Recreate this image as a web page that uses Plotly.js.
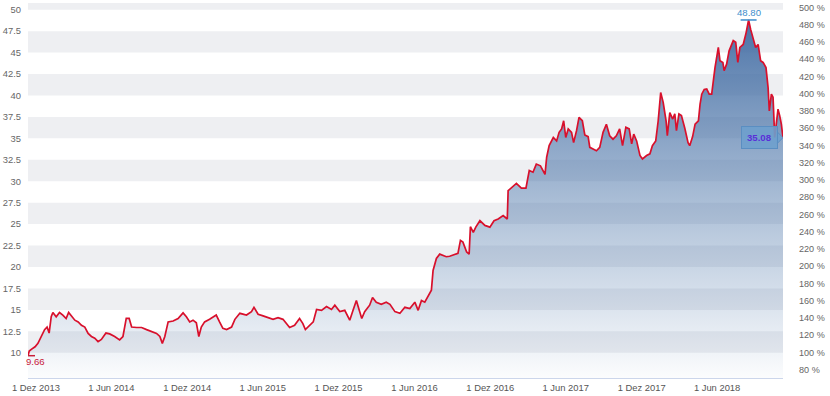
<!DOCTYPE html>
<html>
<head>
<meta charset="utf-8">
<script src="https://cdn.plot.ly/plotly-3.0.1.min.js"></script>
<style>
  html, body { margin: 0; padding: 0; background: #ffffff; }
  #chart { width: 830px; height: 396px; }
</style>
</head>
<body>
<div id="chart"></div>
<script>
const dates = [
'2013-11-12','2013-11-15','2013-11-20','2013-11-29','2013-12-06','2013-12-14','2013-12-22','2013-12-28',
'2014-01-02','2014-01-07','2014-01-11','2014-01-19','2014-01-27','2014-02-04','2014-02-12','2014-02-18','2014-02-26',
'2014-03-05','2014-03-13','2014-03-21','2014-03-29','2014-04-06','2014-04-14','2014-04-22','2014-04-30','2014-05-08',
'2014-05-19','2014-05-28','2014-06-09','2014-06-21','2014-06-29','2014-07-07','2014-07-14','2014-07-20','2014-08-01',
'2014-08-13','2014-08-25','2014-09-06','2014-09-18','2014-09-26','2014-10-02','2014-10-08','2014-10-16','2014-10-28',
'2014-11-09','2014-11-21','2014-11-29','2014-12-07','2014-12-15','2014-12-23','2014-12-29',
'2015-01-04','2015-01-12','2015-01-24','2015-02-09','2015-02-17','2015-02-25','2015-03-06','2015-03-18','2015-03-26',
'2015-04-07','2015-04-23','2015-05-05','2015-05-11','2015-05-21','2015-06-02','2015-06-14','2015-06-26','2015-07-08',
'2015-07-20','2015-08-05','2015-08-17','2015-08-29','2015-09-06','2015-09-12','2015-09-22','2015-10-01','2015-10-09',
'2015-10-21','2015-11-02','2015-11-14','2015-11-22','2015-12-04','2015-12-16','2015-12-28',
'2016-01-05','2016-01-13','2016-01-20','2016-01-26','2016-02-02','2016-02-14','2016-02-21','2016-03-01','2016-03-13',
'2016-03-25','2016-04-03','2016-04-15','2016-04-27','2016-05-09','2016-05-21','2016-06-02','2016-06-10','2016-06-18',
'2016-06-26','2016-07-06','2016-07-12','2016-07-16','2016-07-24','2016-08-01','2016-08-17','2016-08-25','2016-09-06',
'2016-09-14','2016-09-20','2016-09-26','2016-10-05','2016-10-11','2016-10-14','2016-10-21','2016-10-27','2016-11-06',
'2016-11-18','2016-11-30','2016-12-10','2016-12-20',
'2017-01-01','2017-01-11','2017-01-13','2017-01-21','2017-02-02','2017-02-14','2017-02-25','2017-03-05','2017-03-14',
'2017-03-22','2017-04-01','2017-04-12','2017-04-16','2017-04-22','2017-05-02','2017-05-10','2017-05-16','2017-05-22',
'2017-05-27','2017-06-01','2017-06-07','2017-06-15','2017-06-20','2017-06-27','2017-07-03','2017-07-11','2017-07-17',
'2017-07-25','2017-07-29','2017-08-06','2017-08-14','2017-08-22','2017-08-30','2017-09-07','2017-09-15','2017-09-23',
'2017-10-01','2017-10-09','2017-10-16','2017-10-24','2017-11-01','2017-11-07','2017-11-12','2017-11-19','2017-11-27',
'2017-12-03','2017-12-13','2017-12-21','2017-12-27',
'2018-01-04','2018-01-10','2018-01-16','2018-01-22','2018-01-29','2018-02-01','2018-02-07','2018-02-14','2018-02-19',
'2018-02-23','2018-03-01','2018-03-07','2018-03-15','2018-03-23','2018-03-27','2018-04-03','2018-04-09','2018-04-17',
'2018-04-21','2018-04-25','2018-05-01','2018-05-07','2018-05-13','2018-05-19','2018-05-27','2018-06-04','2018-06-08',
'2018-06-15','2018-06-18','2018-06-24','2018-06-30','2018-07-10','2018-07-16','2018-07-21','2018-07-26','2018-08-03',
'2018-08-10','2018-08-16','2018-08-21','2018-08-27','2018-09-02','2018-09-08','2018-09-14','2018-09-20','2018-09-27',
'2018-10-02','2018-10-05','2018-10-10','2018-10-14','2018-10-18','2018-10-22','2018-10-26','2018-10-30','2018-11-03',
'2018-11-07'
];
const prices = [
9.66,10.2,10.4,10.7,11.1,11.9,12.7,13.0,
12.3,14.2,14.7,14.2,14.7,14.4,14.0,14.7,14.2,
13.8,13.6,13.2,13.0,12.25,11.9,11.7,11.3,11.55,
12.3,12.2,11.9,11.5,11.9,14.0,14.0,13.0,12.95,
12.95,12.7,12.45,12.25,11.9,11.1,11.9,13.6,13.7,
14.0,14.65,14.2,13.6,13.8,13.5,11.9,
13.0,13.6,13.9,14.4,13.6,12.85,12.7,13.0,13.9,
14.6,14.4,14.8,15.3,14.5,14.3,14.1,13.9,14.1,
13.9,12.95,13.2,14.0,13.4,12.7,13.2,13.6,15.05,
14.95,15.4,15.05,15.55,14.8,14.95,13.8,
14.95,16.1,14.95,14.0,14.8,15.55,16.45,15.9,15.65,
15.9,15.65,14.8,14.6,15.3,15.15,15.9,14.95,16.1,
15.9,16.9,17.3,19.6,21.0,21.5,21.2,21.25,21.5,
21.6,23.1,22.9,21.75,21.5,24.7,24.05,24.65,25.4,
24.85,24.65,25.4,25.6,
26.0,25.6,28.9,29.2,29.75,29.2,29.2,31.25,31.05,
32.0,31.8,30.8,32.8,34.15,35.1,34.7,35.7,36.1,
37.05,35.1,36.1,35.7,34.5,35.9,37.45,37.05,35.4,
35.2,33.95,33.75,33.55,33.95,35.7,36.65,35.3,34.9,
35.3,36.1,34.15,36.3,36.1,34.35,35.5,34.7,33.0,
32.6,33.0,33.2,34.15,
34.7,37.05,40.35,39.2,37.05,35.3,38.0,37.25,37.85,
35.9,37.85,37.65,36.2,34.5,34.15,35.2,36.65,37.05,
39.0,40.15,40.7,40.75,40.15,40.15,43.25,45.6,44.05,
43.85,42.9,43.65,45.2,46.4,46.2,43.85,45.6,45.95,
47.3,48.8,47.7,46.75,45.6,45.95,44.05,43.85,43.25,
40.95,38.2,40.15,39.8,35.1,37.05,38.4,37.65,36.65,
35.08
];

const xTickVals = ['2013-12-01','2014-06-01','2014-12-01','2015-06-01','2015-12-01','2016-06-01','2016-12-01','2017-06-01','2017-12-01','2018-06-01'];
const xTickText = ['1 Dez 2013','1 Jun 2014','1 Dez 2014','1 Jun 2015','1 Dez 2015','1 Jun 2016','1 Dez 2016','1 Jun 2017','1 Dez 2017','1 Jun 2018'];
const yTickVals = [10,12.5,15,17.5,20,22.5,25,27.5,30,32.5,35,37.5,40,42.5,45,47.5,50];
const yTickText = ['10','12.5','15','17.5','20','22.5','25','27.5','30','32.5','35','37.5','40','42.5','45','47.5','50'];
const pctTickVals = [80,100,120,140,160,180,200,220,240,260,280,300,320,340,360,380,400,420,440,460,480,500];
const pctTickText = ['80 %','100 %','120 %','140 %','160 %','180 %','200 %','220 %','240 %','260 %','280 %','300 %','320 %','340 %','360 %','380 %','400 %','420 %','440 %','460 %','480 %','500 %'];
const bandStarts = [10,15,20,25,30,35,40,45,50];
const pctBase = 10.05;

const yRange = [7.06, 50.78];
const y2Range = [yRange[0] / pctBase * 100, yRange[1] / pctBase * 100];
const pctSeries = prices.map(p => p / pctBase * 100);

const n = prices.length;
let maxI = 0;
prices.forEach((p, i) => { if (p > prices[maxI]) maxI = i; });

const fontFam = 'Liberation Sans, Arial, sans-serif';
const shapes = bandStarts.map(v => ({
  type: 'rect', layer: 'below', xref: 'paper', yref: 'y',
  x0: 0, x1: 1, y0: v, y1: Math.min(v + 2.5, yRange[1]),
  fillcolor: '#eeeff2', line: { width: 0 }
}));
shapes.push({
  type: 'line', xref: 'x', yref: 'y', xsizemode: 'pixel', xanchor: dates[0],
  x0: -6, x1: 7, y0: prices[0], y1: prices[0],
  line: { color: '#c8203a', width: 1.5 }
});
shapes.push({
  type: 'line', xref: 'x', yref: 'y', xsizemode: 'pixel', xanchor: dates[maxI],
  x0: -8, x1: 8, y0: prices[maxI], y1: prices[maxI],
  line: { color: '#3b8dcb', width: 1.5 }
});
// small pointer of the last-value label
shapes.push({
  type: 'path', xref: 'x', yref: 'y', xsizemode: 'pixel', ysizemode: 'pixel',
  xanchor: dates[n - 1], yanchor: prices[n - 1],
  path: 'M -6 -6 L 0 0 L -6 6 Z',
  fillcolor: 'rgba(110,160,205,0.9)', line: { color: '#5a8ec2', width: 1 }
});

const traces = [
  {
    x: dates, y: prices, type: 'scatter', mode: 'lines',
    line: { color: '#d8102c', width: 1.7 },
    fill: 'tozeroy',
    fillgradient: {
      type: 'vertical',
      start: yRange[0], stop: 49,
      colorscale: [[0, 'rgba(74,116,168,0.02)'], [0.4, 'rgba(74,116,168,0.38)'], [1, 'rgba(66,108,163,0.95)']]
    },
    hoverinfo: 'skip', showlegend: false
  },
  {
    x: dates, y: pctSeries, type: 'scatter', mode: 'lines', yaxis: 'y2',
    line: { color: 'rgba(0,0,0,0)', width: 0 }, hoverinfo: 'skip', showlegend: false
  }
];

const layout = {
  width: 830, height: 396,
  margin: { l: 28, r: 47, t: 3, b: 18 },
  paper_bgcolor: '#ffffff', plot_bgcolor: '#ffffff',
  font: { family: fontFam, size: 9.4, color: '#666666' },
  showlegend: false,
  xaxis: {
    type: 'date', range: [dates[0], dates[n - 1]],
    tickmode: 'array', tickvals: xTickVals, ticktext: xTickText,
    showgrid: false, zeroline: false, showline: true, linecolor: '#ccd6eb', linewidth: 1,
    ticks: '', tickfont: { size: 9.4, color: '#555555' }, ticklabelstandoff: 1
  },
  yaxis: {
    range: yRange, tickmode: 'array', tickvals: yTickVals, ticktext: yTickText,
    showgrid: false, zeroline: false, showline: false, ticks: '',
    tickfont: { size: 9.4, color: '#666666' }, ticklabelstandoff: 6
  },
  yaxis2: {
    overlaying: 'y', side: 'right', range: y2Range,
    tickmode: 'array', tickvals: pctTickVals, ticktext: pctTickText,
    showgrid: false, zeroline: false, showline: false, ticks: '',
    tickfont: { size: 9.1, color: '#666666' }, ticklabelstandoff: 15
  },
  shapes: shapes,
  annotations: [
    {
      x: dates[0], y: prices[0], xref: 'x', yref: 'y', text: prices[0].toFixed(2),
      showarrow: false, xanchor: 'left', yanchor: 'top', xshift: -4, yshift: 2,
      font: { family: fontFam, size: 9.6, color: '#c8203a' }
    },
    {
      x: dates[maxI], y: prices[maxI], xref: 'x', yref: 'y', text: prices[maxI].toFixed(2),
      showarrow: false, xanchor: 'center', yanchor: 'bottom', yshift: 0,
      font: { family: fontFam, size: 9.6, color: '#3b8dcb' }
    },
    {
      x: dates[n - 1], y: prices[n - 1], xref: 'x', yref: 'y', text: '<b>' + prices[n - 1].toFixed(2) + '</b>',
      showarrow: false, xanchor: 'right', yanchor: 'middle', xshift: -5,
      bgcolor: 'rgba(110,160,205,0.9)', bordercolor: '#5a8ec2', borderwidth: 1, borderpad: 5,
      font: { family: fontFam, size: 9.6, color: '#5a2fd8' }
    }
  ]
};

Plotly.newPlot('chart', traces, layout, { displayModeBar: false, staticPlot: true });
</script>
</body>
</html>
